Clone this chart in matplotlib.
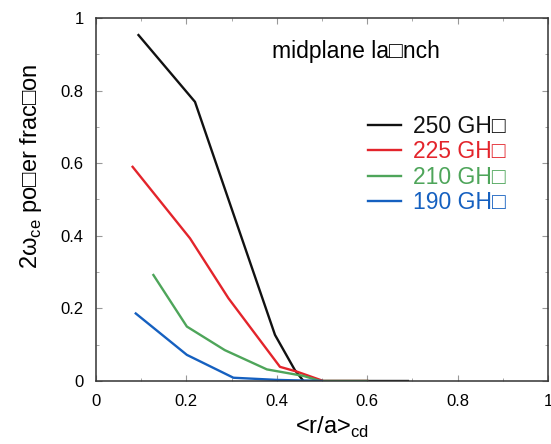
import matplotlib
matplotlib.use("Agg")
import matplotlib.pyplot as plt
from matplotlib.ticker import MultipleLocator, FormatStrFormatter

plt.rcParams['font.family'] = ['Liberation Sans', 'DejaVu Sans']

r_250 = [0.094, 0.219, 0.30, 0.396, 0.44, 0.459, 0.55, 0.69]
p_250 = [0.953, 0.769, 0.475, 0.127, 0.03, 0.0, 0.0, 0.0]

r_225 = [0.081, 0.208, 0.293, 0.407, 0.444, 0.503, 0.6]
p_225 = [0.590, 0.393, 0.228, 0.039, 0.026, 0.0, 0.0]

r_210 = [0.127, 0.201, 0.285, 0.378, 0.459, 0.496, 0.6]
p_210 = [0.292, 0.150, 0.085, 0.032, 0.014, 0.0, 0.0]

r_190 = [0.088, 0.201, 0.304, 0.40, 0.5]
p_190 = [0.186, 0.072, 0.009, 0.003, 0.0]

BOX = '\u25a1'
labels = ['250 GH' + BOX, '225 GH' + BOX, '210 GH' + BOX, '190 GH' + BOX]
colors = ['#111111', '#e3242b', '#4ea55a', '#1560c0']

fig = plt.figure(figsize=(5.51, 4.44), dpi=100)
ax = fig.add_axes([96/551, 63/444, 452/551, 363/444])

series = [(r_250, p_250), (r_225, p_225), (r_210, p_210), (r_190, p_190)]
for (x, y), lab, c in zip(series, labels, colors):
    ax.plot(x, y, color=c, lw=1.7, label=lab)

ax.set_xlim(0, 1)
ax.set_ylim(0, 1)
ax.xaxis.set_major_locator(MultipleLocator(0.2))
ax.yaxis.set_major_locator(MultipleLocator(0.2))
ax.xaxis.set_minor_locator(MultipleLocator(0.1))
ax.yaxis.set_minor_locator(MultipleLocator(0.1))
ax.xaxis.set_major_formatter(FormatStrFormatter('%g'))
ax.yaxis.set_major_formatter(FormatStrFormatter('%g'))
ax.tick_params(which='both', direction='in', top=True, right=True, color='#999999')
ax.tick_params(which='major', length=4, labelsize=12)
ax.tick_params(which='minor', length=2.5)
ax.tick_params(axis='x', pad=9)
ax.tick_params(axis='y', pad=9)
for s in ax.spines.values():
    s.set_color('#333333')
    s.set_linewidth(1.1)

ax.set_xlabel(r'<r/a>$_{\mathregular{cd}}$', fontsize=17)
ax.xaxis.set_label_coords(0.522, -0.093)
ax.set_ylabel('2\u03c9$_{\\mathregular{ce}}$ po' + BOX + 'er frac' + BOX + 'on',
              fontsize=17)
ax.yaxis.set_label_coords(-0.143, 0.59)
ax.yaxis.label.set_va('center')

ax.text(0.389, 0.907, 'midplane la' + BOX + 'nch', fontsize=16.5, va='center', ha='left')

ax.legend(loc='upper left', bbox_to_anchor=(368/551, 1 - 115/444),
          bbox_transform=fig.transFigure, frameon=False, fontsize=16.5,
          handlelength=1.45, handletextpad=0.5, labelspacing=0.1,
          borderpad=0, borderaxespad=0, labelcolor='linecolor')

fig.savefig('out.png', dpi=100)
